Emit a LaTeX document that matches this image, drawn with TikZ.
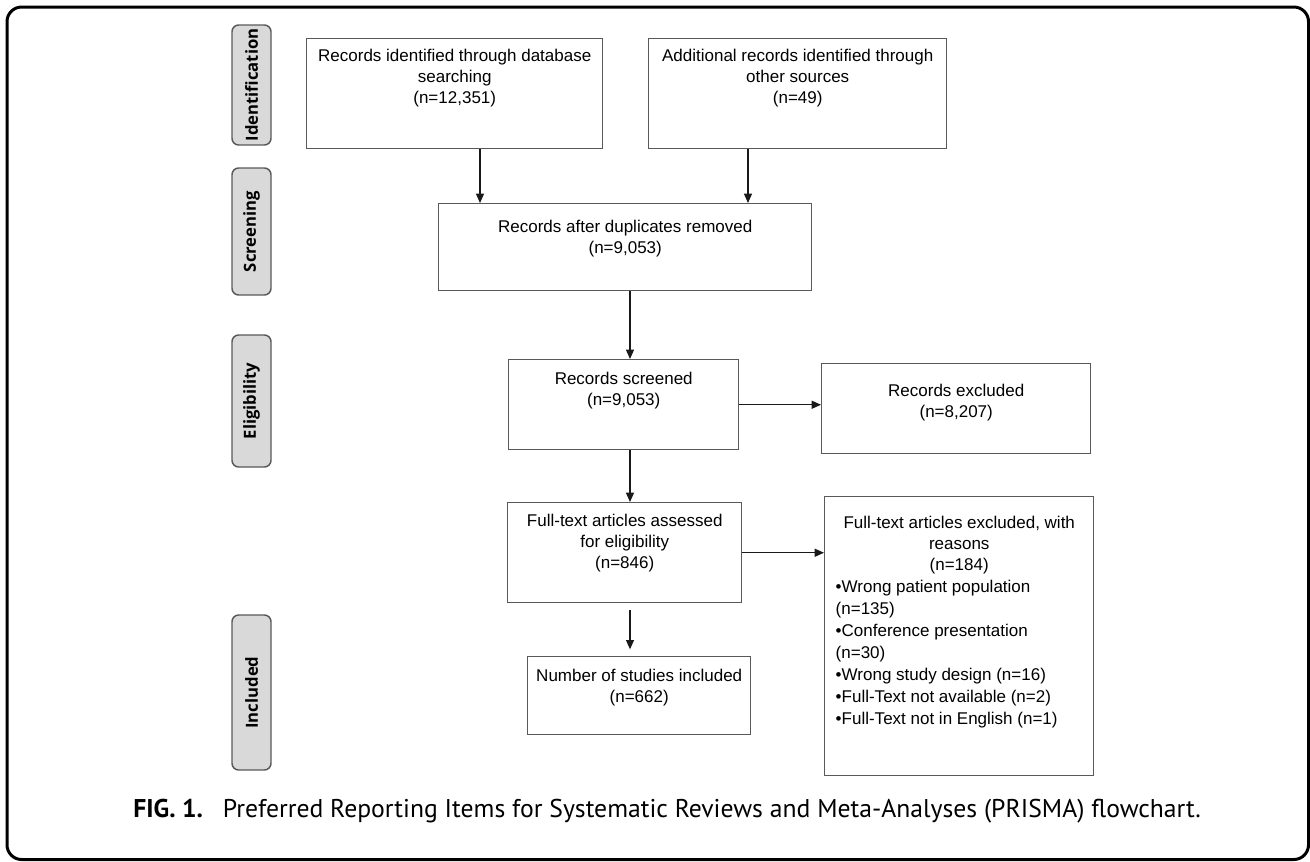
\documentclass[tikz,border=0pt]{standalone}
\usepackage{fontspec}
\setmainfont{Liberation Sans}
\newfontfamily\phasefont{Open Sans}
\newfontfamily\capfont{PT Sans}
\usepackage{tikz}
\usetikzlibrary{arrows.meta,positioning,calc}
\newdimen\pxu \pxu=0.75pt
% text of a flow box: width, height (px), top gap (px), lines
\newcommand{\btxt}[4]{\parbox[t][#2\pxu][t]{#1\pxu}{\centering\rule{0pt}{#3\pxu}#4}}

\begin{document}
\begin{tikzpicture}[
    x=0.75pt, y=-0.75pt,
    pbox/.style={draw=black!65, line width=1.1pt, fill=white, anchor=north west,
                 inner sep=0pt, font=\fontsize{12.75}{15.75}\selectfont},
    phase/.style={draw=black!65, line width=1.1pt, fill=black!15, rounded corners=5pt,
                  rotate=90, minimum height=29.25pt, inner sep=0pt,
                  font=\phasefont\bfseries\fontsize{12.5}{14}\selectfont},
    arr/.style={-{Triangle[length=7pt,width=6pt]}, line width=0.9pt, black!90}
]
\useasboundingbox (0,0) rectangle (1310,861);
\draw[line width=2.25pt, rounded corners=11pt] (7,7) rectangle (1308.5,859.5);

\node[pbox] (recdb) at (306,38) {\btxt{296}{110}{23}{Records identified through database\\searching\\(n=12,351)}};
\node[pbox] (recoth) at (648,38) {\btxt{298}{110}{23}{Additional records identified through\\other sources\\(n=49)}};
\node[pbox] (dedup) at (438,203) {\btxt{373}{87}{29}{Records after duplicates removed\\(n=9,053)}};
\node[pbox] (screen) at (508,359) {\btxt{230}{90}{25}{Records screened\\(n=9,053)}};
\node[pbox] (excl) at (821,363) {\btxt{269}{90}{33}{Records excluded\\(n=8,207)}};
\node[pbox] (elig) at (507,502) {\btxt{234}{100}{24}{Full-text articles assessed\\for eligibility\\(n=846)}};
\node[pbox] (ftexcl) at (824,496) {\parbox[t][279\pxu][t]{269\pxu}{\centering\rule{0pt}{32\pxu}Full-text articles excluded, with\\reasons\\(n=184)\par
  \raggedright\leftskip=11\pxu
  \baselineskip=16.5pt
  •Wrong patient population\\(n=135)\\•Conference presentation\\(n=30)\\•Wrong study design (n=16)\\•Full-Text not available (n=2)\\•Full-Text not in English (n=1)}};
\node[pbox] (incl) at (527,656) {\btxt{223}{78}{25}{Number of studies included\\(n=662)}};

% arrows
\coordinate (xa) at (480,0);
\coordinate (xb) at (748,0);
\coordinate (xs) at (630,0);
\draw[arr] (recdb.south -| xa) -- (dedup.north -| xa);
\draw[arr] (recoth.south -| xb) -- (dedup.north -| xb);
\draw[arr] (dedup.south -| xs) -- (screen.north -| xs);
\draw[arr] (screen.east) -- (screen.east -| excl.west);
\draw[arr] (screen.south -| xs) -- (elig.north -| xs);
\draw[arr] (elig.east) -- (elig.east -| ftexcl.west);
\draw[arr, shorten <=5pt, shorten >=5pt] (elig.south -| xs) -- (incl.north -| xs);

% Phase labels
\node[phase, minimum width=90pt] (pident) at (251.5,85) {Identification};
\node[phase, minimum width=95.25pt] (pscreen) at (251.5,231.5) {Screening};
\node[phase, minimum width=99pt] (pelig) at (251.5,401) {Eligibility};
\node[phase, minimum width=116.25pt] (pincl) at (251.5,692.5) {Included};

\node[anchor=base west, inner sep=0pt, font=\capfont\fontsize{19.25}{21}\selectfont] (cap) at (133,817)
  {\textbf{FIG. 1.}\hspace{15pt}Preferred Reporting Items for Systematic Reviews and Meta-Analyses (PRISMA) flowchart.};
\end{tikzpicture}
\end{document}
